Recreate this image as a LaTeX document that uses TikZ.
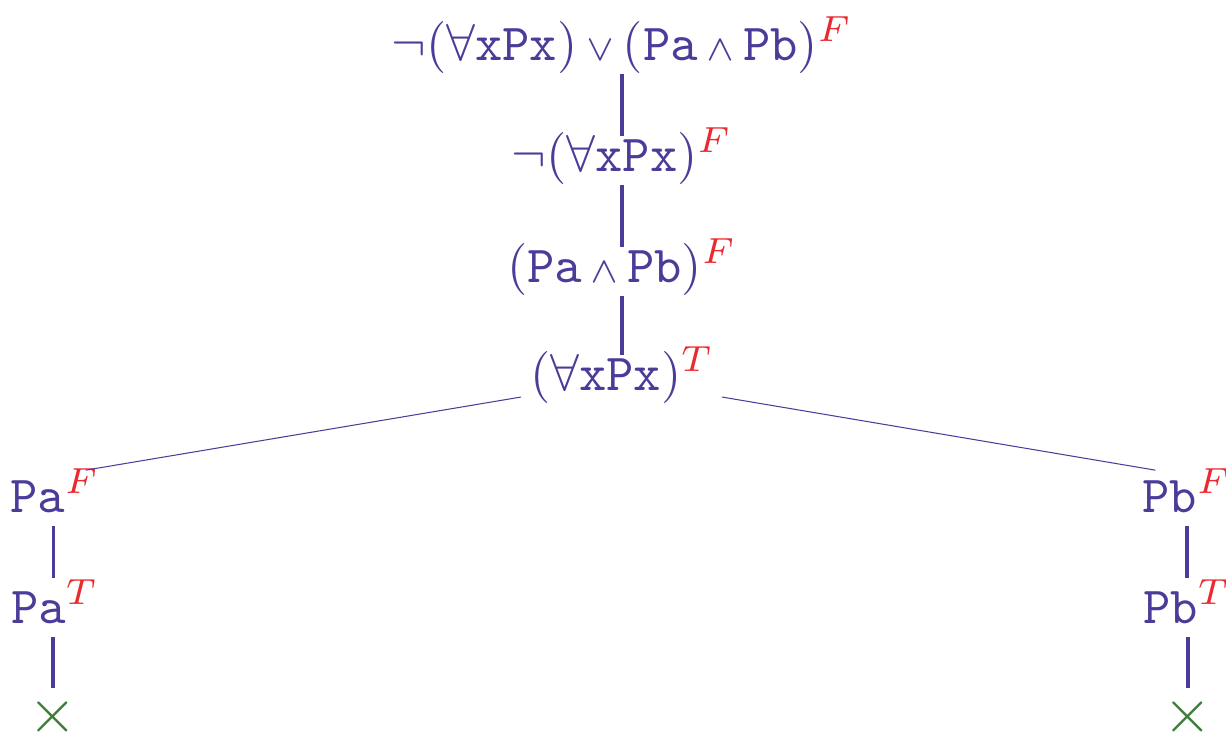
\documentclass[tikz,border=0pt]{standalone}
\usepackage{xcolor}
\usepackage{tikz}
\usetikzlibrary{positioning}
\definecolor{tabInk}{HTML}{4A3C98}
\definecolor{tabRed}{HTML}{EA2A2E}
\definecolor{tabGreen}{HTML}{3C7D38}
\tikzset{
  formula/.style={text=tabInk, inner sep=0pt, anchor=base},
  closed/.style={text=tabGreen, inner sep=0pt, font=\large},
  trunk/.style={draw=tabInk, line width=0.6pt, shorten <=0pt, shorten >=-1.8pt},
  stem/.style={draw=tabInk, line width=0.6pt, shorten <=2.5pt},
  twig/.style={draw=tabInk, line width=0.2pt},
}
\newcommand{\sgn}[1]{^{\textcolor{tabRed}{#1}}}
\newcommand{\tand}{\,{\scriptstyle\wedge}\,}
\newcommand{\tor}{\,{\scriptstyle\vee}\,}
\begin{document}
\begin{tikzpicture}[x=0.1923pt, y=-0.1923pt]
  \useasboundingbox (0,0) rectangle (1226,736);
  % main trunk
  \node[formula] (root) at (622,60)
    {$\neg(\forall\mathtt{xPx})\tor(\mathtt{Pa}\tand\mathtt{Pb})\sgn{F}$};
  \node[formula] (negall) at (622,171) {$\neg(\forall\mathtt{xPx})\sgn{F}$};
  \node[formula] (conj) at (622,282) {$(\mathtt{Pa}\tand\mathtt{Pb})\sgn{F}$};
  \node[formula] (all) at (622,390) {$(\forall\mathtt{xPx})\sgn{T}$};
  % branches
  \node[formula] (paF) at (55,512) {$\mathtt{Pa}\sgn{F}$};
  \node[formula] (paT) at (55,623) {$\mathtt{Pa}\sgn{T}$};
  \node[formula] (pbF) at (1187,512) {$\mathtt{Pb}\sgn{F}$};
  \node[formula] (pbT) at (1187,623) {$\mathtt{Pb}\sgn{T}$};
  \node[closed] (xL) at (53,717) {$\times$};
  \node[closed] (xR) at (1188,717) {$\times$};
  % edges
  \draw[trunk] (root.south) -- (negall.north);
  \draw[trunk] (negall.south) -- (conj.north);
  \draw[trunk] (conj.south) -- (all.north);
  \draw[twig] ([shift={(-8,-7)}]all.south west) -- ([shift={(-15,3)}]paF.north east);
  \draw[twig] ([shift={(7,-7)}]all.south east) -- ([shift={(14,3)}]pbF.north west);
  \draw[stem] ([xshift=-0.3pt]paF.south) -- ([xshift=-0.3pt]paT.north);
  \draw[stem, shorten >=1.3pt] (paT.south -| xL) -- (xL.north);
  \draw[stem] (pbF.south) -- (pbT.north);
  \draw[stem, shorten >=1.3pt] (pbT.south -| xR) -- (xR.north);
\end{tikzpicture}
\end{document}
